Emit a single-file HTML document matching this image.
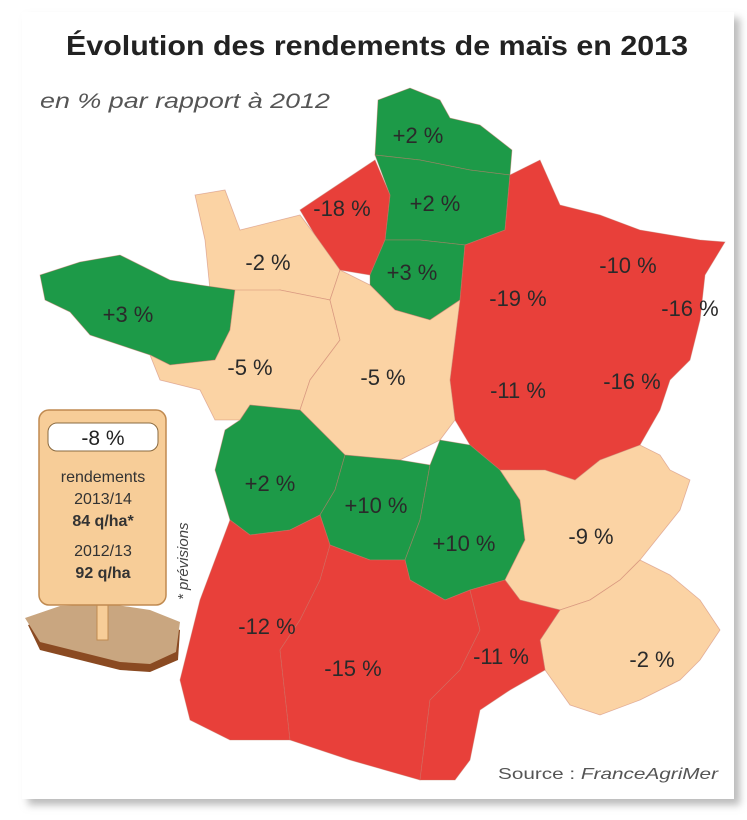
<!DOCTYPE html>
<html><head><meta charset="utf-8"><style>
body{margin:0;width:747px;height:815px;background:#fff;overflow:hidden;font-family:"Liberation Sans",sans-serif}
</style></head><body>
<svg width="747" height="815" viewBox="0 0 747 815" xmlns="http://www.w3.org/2000/svg">
<defs><filter id="sh"><feGaussianBlur stdDeviation="4"/></filter></defs>
<rect x="28" y="18" width="712" height="787" fill="#bbb" filter="url(#sh)"/>
<rect x="22" y="12" width="712" height="787" fill="#fff"/>
<text x="66" y="55" font-size="28" font-weight="bold" fill="#222" textLength="622" lengthAdjust="spacingAndGlyphs">Évolution des rendements de maïs en 2013</text>
<text x="40" y="108" font-size="21" font-style="italic" fill="#555" textLength="290" lengthAdjust="spacingAndGlyphs">en % par rapport à 2012</text>
<g stroke="#c8776a" stroke-width="0.8" stroke-opacity="0.5">
<polygon fill="#1d9a48" points="378,100 410,88 440,100 450,118 480,125 512,150 510,175 470,170 420,160 375,155"/>
<polygon fill="#1d9a48" points="375,155 420,160 470,170 510,175 505,230 465,245 420,240 385,240 390,195"/>
<polygon fill="#e8403a" points="300,210 345,180 375,160 390,195 385,240 370,275 340,270 315,235"/>
<polygon fill="#fbd3a4" points="195,195 225,190 240,230 300,215 315,235 340,270 330,300 280,290 240,300 210,290 205,240"/>
<polygon fill="#1d9a48" points="385,240 420,240 465,245 460,300 430,320 395,310 370,285 370,275"/>
<polygon fill="#e8403a" points="510,175 540,160 560,205 600,215 640,230 700,240 725,242 705,275 700,320 690,360 670,380 660,410 640,445 600,460 575,480 545,470 500,470 470,445 455,420 450,380 460,300 465,245 505,230"/>
<polygon fill="#1d9a48" points="40,275 80,262 120,255 170,280 200,285 235,290 230,330 215,360 170,365 150,355 120,345 90,335 70,312 45,300"/>
<polygon fill="#fbd3a4" points="235,290 280,290 330,300 340,340 310,380 300,410 250,405 240,420 215,420 200,390 160,380 150,355 170,365 215,360 230,330"/>
<polygon fill="#fbd3a4" points="340,270 370,285 395,310 430,320 460,300 450,380 455,420 440,440 400,460 345,455 300,410 310,380 340,340 330,300"/>
<polygon fill="#1d9a48" points="250,405 300,410 345,455 335,490 320,515 290,530 250,535 230,520 215,470 225,430 240,420"/>
<polygon fill="#1d9a48" points="345,455 400,460 430,465 420,520 405,560 370,560 330,545 320,515 335,490"/>
<polygon fill="#1d9a48" points="440,440 470,445 500,470 520,500 525,540 505,580 470,590 445,600 410,580 405,560 420,520 430,465"/>
<polygon fill="#fbd3a4" points="500,470 545,470 575,480 600,460 640,445 660,455 670,470 690,480 680,510 660,535 640,560 620,580 590,600 560,610 520,600 505,580 525,540 520,500"/>
<polygon fill="#fbd3a4" points="590,600 620,580 640,560 670,575 700,600 720,630 700,660 680,680 640,700 600,715 570,705 545,670 540,640 560,610"/>
<polygon fill="#e8403a" points="230,520 250,535 290,530 320,515 330,545 320,580 300,620 280,650 290,740 230,740 190,720 180,680 200,600 215,560"/>
<polygon fill="#e8403a" points="330,545 370,560 405,560 410,580 445,600 470,590 480,630 460,670 430,700 420,780 350,760 290,740 280,650 300,620 320,580"/>
<polygon fill="#e8403a" points="470,590 505,580 520,600 560,610 540,640 545,670 510,690 480,710 470,760 455,780 420,780 430,700 460,670 480,630"/>
</g>
<g font-size="22" fill="#2a2a2a" text-anchor="middle">
<text x="418" y="143">+2 %</text><text x="342" y="216">-18 %</text><text x="435" y="211">+2 %</text>
<text x="268" y="270">-2 %</text><text x="412" y="280">+3 %</text><text x="628" y="273">-10 %</text>
<text x="518" y="306">-19 %</text><text x="690" y="316">-16 %</text><text x="128" y="322">+3 %</text>
<text x="250" y="375">-5 %</text><text x="383" y="385">-5 %</text><text x="518" y="398">-11 %</text>
<text x="632" y="389">-16 %</text><text x="270" y="491">+2 %</text><text x="376" y="513">+10 %</text>
<text x="464" y="551">+10 %</text><text x="591" y="544">-9 %</text><text x="267" y="634">-12 %</text>
<text x="353" y="676">-15 %</text><text x="501" y="664">-11 %</text><text x="652" y="667">-2 %</text>
</g>
<polygon points="28,625 60,615 110,612 150,618 180,630 178,660 150,672 120,670 80,660 40,650" fill="#8a4a22"/>
<polygon points="25,618 60,606 110,604 150,610 180,622 176,652 150,664 120,662 80,652 40,642" fill="#c9a680"/>
<rect x="97" y="605" width="11" height="35" fill="#f7cd98" stroke="#c08a50"/>
<rect x="39" y="410" width="127" height="195" rx="10" fill="#f7cd98" stroke="#c08a50" stroke-width="1.5"/>
<rect x="48" y="423" width="110" height="28" rx="9" fill="#fff" stroke="#8a6a40"/>
<text x="103" y="445" text-anchor="middle" font-size="21" fill="#222">-8 %</text>
<g text-anchor="middle" font-size="16" fill="#333">
<text x="103" y="482">rendements</text><text x="103" y="504">2013/14</text>
<text x="103" y="526" font-weight="bold">84 q/ha*</text>
<text x="103" y="556">2012/13</text><text x="103" y="578" font-weight="bold">92 q/ha</text>
</g>
<text x="0" y="0" font-size="15" font-style="italic" fill="#444" transform="translate(188 600) rotate(-90)">* prévisions</text>
<text x="498" y="779" font-size="16" fill="#555" textLength="220" lengthAdjust="spacingAndGlyphs">Source : <tspan font-style="italic">FranceAgriMer</tspan></text>
</svg>
</body></html>
